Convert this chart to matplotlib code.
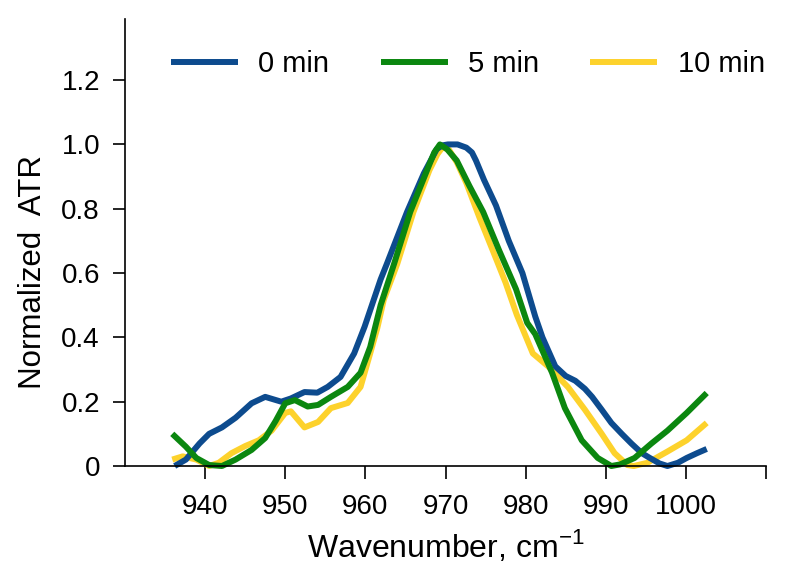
import matplotlib
matplotlib.use('Agg')
import matplotlib.pyplot as plt

plt.rcParams['font.family'] = ['Liberation Sans', 'DejaVu Sans']
plt.rcParams['mathtext.fontset'] = 'custom'
plt.rcParams['mathtext.rm'] = 'Liberation Sans'

# 0 min
x0 = [936.2, 937.6, 939.3, 940.5, 942.1, 943.8, 945.8, 947.5, 949.5, 950.7,
      952.4, 954.0, 955.3, 956.9, 958.6, 959.9, 961.9, 962.7, 965.2, 967.3,
      968.9, 969.6, 970.3, 971.5, 972.6, 973.3, 973.8, 974.8, 976.3, 977.9,
      979.6, 981.2, 982.1, 983.7, 985.0, 986.2, 987.4, 988.3, 989.5, 990.7,
      992.0, 993.2, 994.5, 995.5, 996.7, 997.7, 999.0, 1000.1, 1001.4, 1002.6]
y0 = [0.0, 0.02, 0.07, 0.10, 0.12, 0.15, 0.195, 0.215, 0.20, 0.21,
      0.23, 0.228, 0.246, 0.277, 0.35, 0.433, 0.58, 0.63, 0.79, 0.91,
      0.985, 0.997, 1.0, 1.0, 0.99, 0.975, 0.95, 0.89, 0.81, 0.70,
      0.60, 0.465, 0.40, 0.31, 0.28, 0.265, 0.24, 0.215, 0.175, 0.134,
      0.10, 0.07, 0.04, 0.025, 0.008, 0.0, 0.01, 0.025, 0.04, 0.053]

# 5 min
x5 = [935.9, 937.6, 938.9, 940.5, 942.1, 943.8, 945.8, 947.5, 948.8, 950.0,
      951.2, 952.8, 954.1, 955.7, 957.8, 959.4, 960.6, 961.9, 963.6, 965.6,
      967.7, 968.6, 969.3, 970.2, 971.4, 973.0, 974.7, 976.7, 978.8, 980.2,
      981.2, 983.3, 984.9, 987.0, 989.0, 990.7, 991.8, 993.6, 995.7, 997.7,
      1000.1, 1002.6]
y5 = [0.10, 0.06, 0.025, 0.003, 0.0, 0.02, 0.05, 0.087, 0.14, 0.195,
      0.205, 0.185, 0.19, 0.215, 0.246, 0.29, 0.37, 0.50, 0.63, 0.79,
      0.92, 0.975, 1.0, 0.985, 0.95, 0.87, 0.79, 0.67, 0.55, 0.445,
      0.41, 0.29, 0.18, 0.08, 0.025, 0.0, 0.005, 0.025, 0.07, 0.11,
      0.165, 0.227]

# 10 min
x10 = [935.9, 937.2, 938.9, 940.5, 941.7, 943.3, 945.0, 946.7, 948.3, 950.0,
       950.7, 952.4, 954.1, 955.7, 957.8, 959.4, 960.6, 961.5, 962.3, 964.0,
       966.0, 968.0, 969.0, 969.6, 970.4, 971.4, 972.6, 974.2, 975.9, 977.5,
       978.9, 980.9, 982.8, 985.3, 987.4, 989.5, 991.1, 992.7, 993.5, 995.2,
       997.7, 1000.1, 1002.6]
y10 = [0.02, 0.03, 0.02, 0.0, 0.01, 0.04, 0.062, 0.08, 0.11, 0.165,
       0.17, 0.12, 0.137, 0.18, 0.196, 0.246, 0.35, 0.43, 0.517, 0.63,
       0.79, 0.92, 0.97, 0.99, 0.985, 0.945, 0.88, 0.775, 0.67, 0.57,
       0.47, 0.35, 0.31, 0.245, 0.175, 0.10, 0.04, 0.003, 0.0, 0.01,
       0.045, 0.08, 0.134]

labels = ['0 min', '5 min', '10 min']
colors = ['#0d4b8e', '#0b870f', '#fdd22c']

xticks = [940, 950, 960, 970, 980, 990, 1000, 1010]
xticklabels = ['940', '950', '960', '970', '980', '990', '1000', '']
yticks = [0, 0.2, 0.4, 0.6, 0.8, 1.0, 1.2]
yticklabels = ['0', '0.2', '0.4', '0.6', '0.8', '1.0', '1.2']

fig = plt.figure(figsize=(7.87, 5.82), dpi=100)
ax = fig.add_axes([125 / 787, 1 - 466 / 582, 641 / 787, 447 / 582])

lw = 4.3
l10, = ax.plot(x10, y10, color=colors[2], lw=lw, label=labels[2],
               clip_on=False, solid_joinstyle='round', solid_capstyle='butt')
l0, = ax.plot(x0, y0, color=colors[0], lw=lw, label=labels[0],
              clip_on=False, solid_joinstyle='round', solid_capstyle='butt')
l5, = ax.plot(x5, y5, color=colors[1], lw=lw, label=labels[1],
              clip_on=False, solid_joinstyle='round', solid_capstyle='butt')

ax.set_xlim(930, 1010)
ax.set_ylim(0, 1.39)
ax.set_xticks(xticks)
ax.set_xticklabels(xticklabels)
ax.set_yticks(yticks)
ax.set_yticklabels(yticklabels)

for s in ['top', 'right']:
    ax.spines[s].set_visible(False)
for s in ['left', 'bottom']:
    ax.spines[s].set_linewidth(1.2)

ax.tick_params(axis='both', direction='out', length=9, width=1.2,
               labelsize=20, pad=9)
ax.tick_params(axis='x', pad=11)

ax.set_xlabel(r'Wavenumber, cm$^{\mathregular{-1}}$', fontsize=23, labelpad=6)
ax.set_ylabel('Normalized  ATR', fontsize=22.5)
ax.yaxis.set_label_coords(-0.12, 0.434)

leg = ax.legend(handles=[l0, l5, l10], ncol=3, frameon=False, fontsize=21,
                loc='center left', bbox_to_anchor=((171 - 125) / 641, (466 - 64) / 447),
                borderpad=0, borderaxespad=0, handlelength=2.3,
                handletextpad=0.7, columnspacing=1.75)

plt.savefig('out.png', dpi=100)
plt.close()
